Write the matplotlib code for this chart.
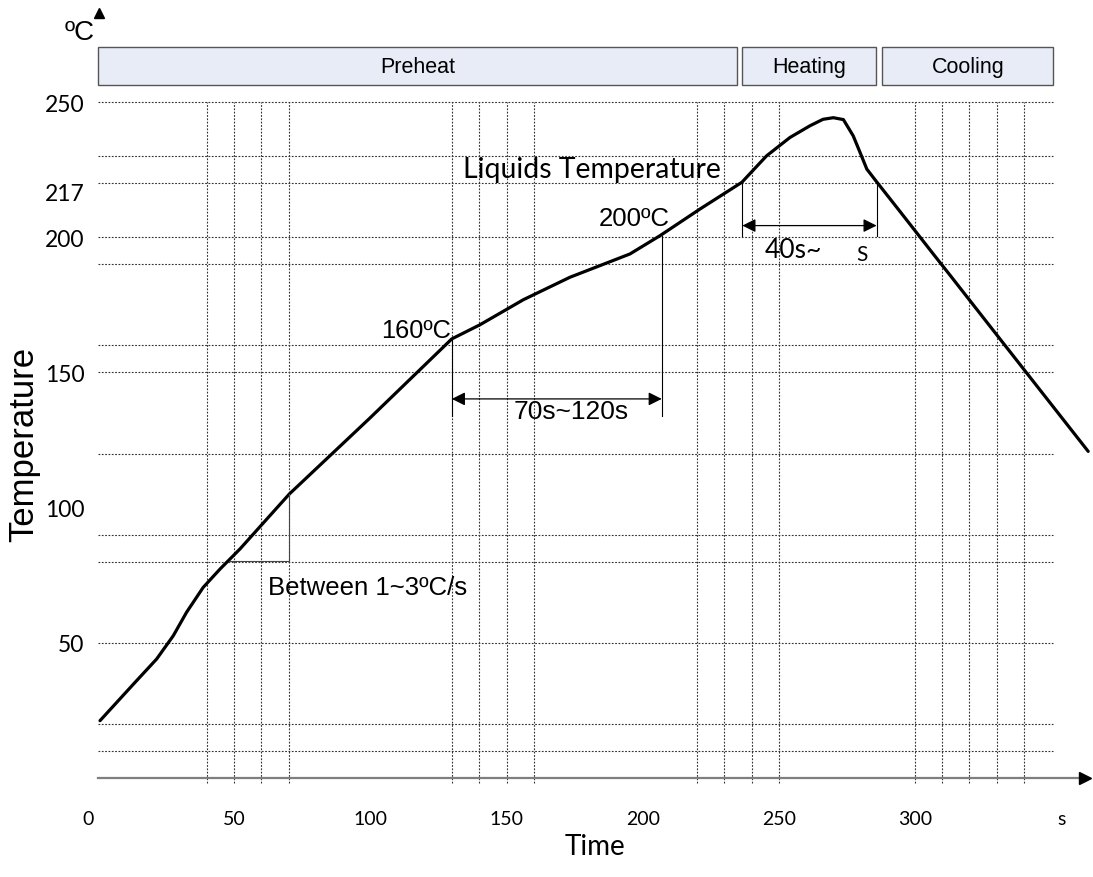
import matplotlib
matplotlib.use('Agg')
import matplotlib.pyplot as plt
from matplotlib.patches import Rectangle

# reflow profile (time s, temperature C)
time_s = [0.7, 13.6, 21.5, 27.6, 32.5, 38.6, 44.8, 52.1, 70.2, 99.8, 129.9, 140.2,
          156.2, 173.3, 195.3, 206.4, 221.0, 236.4, 245.5, 254.1, 261.4, 266.2, 270.0,
          273.7, 277.3, 279.8, 282.3, 285.9, 294.5, 306.7, 312.9, 331.8, 363.6]
temp_c = [21.2, 35.4, 44.0, 52.6, 61.3, 70.5, 77.3, 84.7, 105.0, 133.1, 162.4, 167.6,
          176.9, 185.2, 193.8, 200.6, 210.4, 220.3, 230.1, 236.9, 241.2, 243.6, 244.2,
          243.5, 237.5, 231.4, 225.2, 220.5, 209.5, 193.8, 185.9, 161.6, 120.8]

grid_t = [40, 50, 60, 70, 130, 140, 150, 160, 220, 230, 240, 250, 300, 310, 320, 330, 340]
grid_T = [10, 20, 50, 80, 90, 120, 150, 160, 190, 200, 220, 230, 250]

xtick_pos = [-3.5, 50, 100, 150, 200, 250, 300, 354]
xtick_lab = ['0', '50', '100', '150', '200', '250', '300', 's']
ytick_pos = [250, 217, 200, 150, 100, 50]

phase_names = ['Preheat', 'Heating', 'Cooling']
phase_start = [0, 236.6, 288.0]
phase_end = [234.5, 285.6, 350.8]

ARIAL = 'Liberation Sans'
CALIBRI = 'Lato'

fig = plt.figure(figsize=(10.93, 8.78), dpi=100)
ax = fig.add_axes([87.2 / 1093, 99 / 878, 1005.9 / 1093, 779 / 878])
ax.set_xlim(-4, 365.4)
ax.set_ylim(0, 288.1)
for s in ax.spines.values():
    s.set_visible(False)

# grid
ax.vlines(grid_t, -2, 250, colors='#333333', linestyles=(0, (1.6, 1.4)), lw=0.8, clip_on=False)
ax.hlines(grid_T, 0, 350.8, colors='#333333', linestyles=(0, (1.6, 1.4)), lw=0.8)

# axes arrows
ax.plot([0, 362], [0, 0], color='#7f7f7f', lw=1.6, clip_on=False)
ax.plot([362.5], [0], marker='>', color='black', ms=9, clip_on=False)
ax.plot([0.3], [283], marker='^', color='black', ms=7, clip_on=False)

# phase boxes
for name, a, b in zip(phase_names, phase_start, phase_end):
    ax.add_patch(Rectangle((a, 256.3), b - a, 14.0, facecolor='#e8ecf7',
                           edgecolor='#555555', lw=1.0))
    ax.text((a + b) / 2, 263.3, name, ha='center', va='center',
            fontsize=15.5, family=ARIAL)
ax.text(-1.2, 276, 'ºC', ha='right', va='center', fontsize=20, family=ARIAL)

# profile
ax.plot(time_s, temp_c, color='black', lw=2.3, solid_capstyle='round')

# 1~3 C/s slope marker
ax.plot([48.4, 70.2, 70.2], [80.4, 80.4, 105.0], color='#444444', lw=0.8)
ax.text(62.5, 70.6, 'Between 1~3ºC/s', ha='left', va='center', fontsize=18.5, family=ARIAL)

# 160 -> 200 soak
ax.plot([129.9, 129.9], [162.4, 134.0], color='black', lw=0.8)
ax.plot([207.0, 207.0], [200.6, 134.0], color='black', lw=0.8)
ax.annotate('', xy=(207.0, 140.2), xytext=(129.9, 140.2),
            arrowprops=dict(arrowstyle='<|-|>', color='black', lw=0.9,
                            mutation_scale=20, shrinkA=0, shrinkB=0))
ax.text(129.6, 165.8, '160ºC', ha='right', va='center', fontsize=18.3, family=ARIAL)
ax.text(196.8, 207.1, '200ºC', ha='center', va='center', fontsize=18.5, family=ARIAL)
ax.text(173.6, 135.9, '70s~120s', ha='center', va='center', fontsize=19, family=ARIAL)

# above liquidus
ax.plot([236.6, 236.6], [220.3, 200.6], color='black', lw=0.8)
ax.plot([285.9, 285.9], [220.5, 200.6], color='black', lw=0.8)
ax.annotate('', xy=(285.9, 204.3), xytext=(236.6, 204.3),
            arrowprops=dict(arrowstyle='<|-|>', color='black', lw=0.9,
                            mutation_scale=20, shrinkA=0, shrinkB=0))
ax.text(181.4, 225.2, 'Liquids Temperature', ha='center', va='center', fontsize=20.4, family=CALIBRI)
ax.text(255.2, 195.6, '40s~', ha='center', va='center', fontsize=19, family=CALIBRI)
ax.text(280.4, 193.8, 'S', ha='center', va='center', fontsize=15, family=CALIBRI)

# ticks and labels
ax.set_xticks(xtick_pos)
ax.set_xticklabels(xtick_lab, family=CALIBRI, fontsize=14)
ax.set_yticks(ytick_pos)
ax.set_yticklabels([str(v) for v in ytick_pos], family=CALIBRI, fontsize=16.5)
ax.tick_params(axis='x', length=0, pad=23)
ax.tick_params(axis='y', length=0, pad=2)
ax.set_xlabel('Time', family=CALIBRI, fontsize=20)
ax.xaxis.set_label_coords(0.505, -0.071)
ax.set_ylabel('Temperature', family=ARIAL, fontsize=25)
ax.yaxis.set_label_coords(-0.047, 0.429)

fig.savefig('out.png', dpi=100)
